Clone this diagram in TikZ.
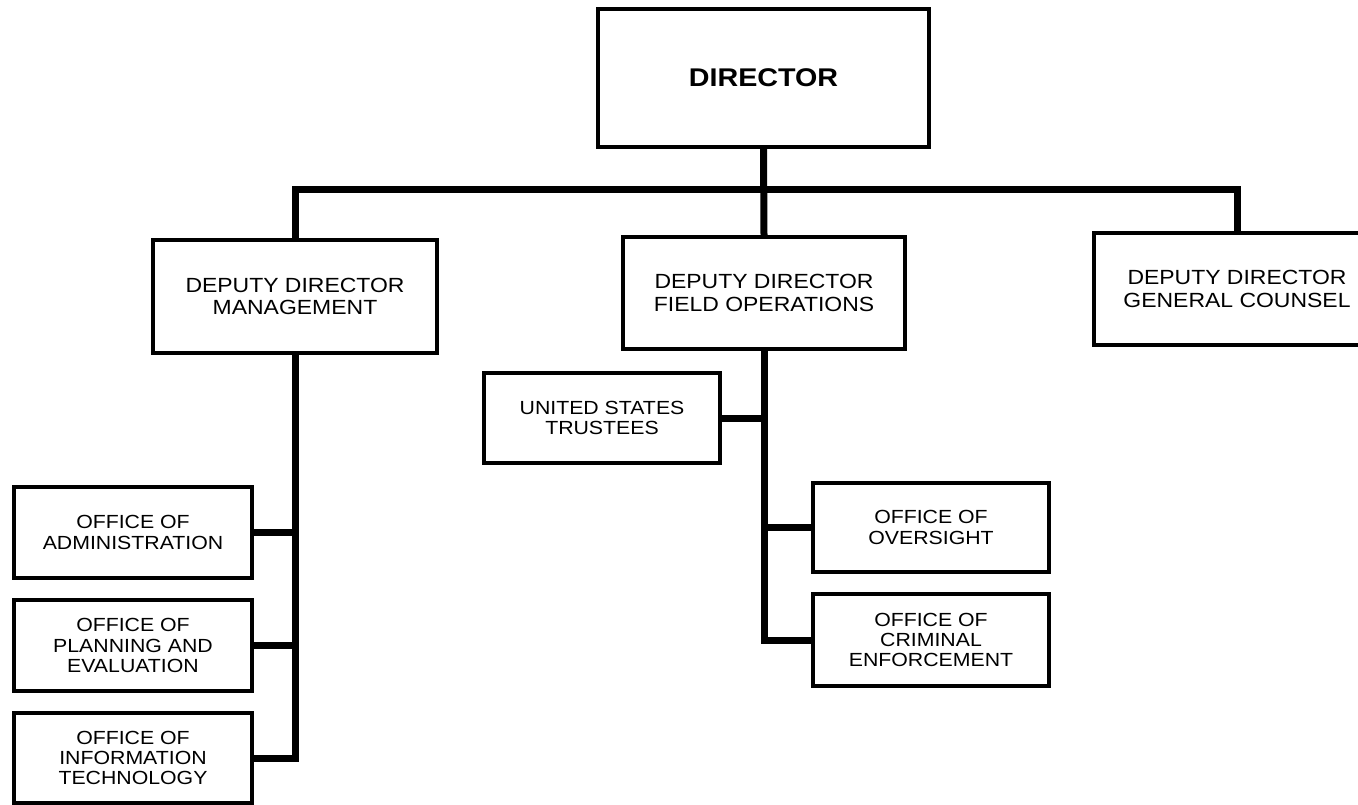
\documentclass[tikz,border=0pt]{standalone}
\usepackage{fontspec}
\setmainfont{Liberation Sans}[FakeStretch=1.12]
\usepackage{tikz}

\begin{document}
\begin{tikzpicture}[x=1pt,y=-1pt,
	unitbox/.style={draw=black, line width=4pt, align=center, inner sep=0pt},
	bigtext/.style={font=\fontsize{20.5}{22.7}\selectfont},
	smalltext/.style={font=\fontsize{19}{20.3}\selectfont},
	link/.style={draw=black, line width=7pt, line join=miter}]
					\tikzstyle{every node}+=[inner sep=0pt]
					\useasboundingbox (0,0) rectangle (1358,805);
					\clip (0,0) rectangle (1358,805);
					% top level
					\node [unitbox, minimum width=331pt, minimum height=138pt, font=\fontsize{25.6}{28}\selectfont\bfseries] (dir) at (763.5,78) {DIRECTOR};
					\node [unitbox, bigtext, minimum width=284pt, minimum height=113pt] (ddm) at (295,296.5) {DEPUTY DIRECTOR\\MANAGEMENT};
					\node [unitbox, bigtext, minimum width=282pt, minimum height=112pt] (ddf) at (764,293) {DEPUTY DIRECTOR\\FIELD OPERATIONS};
					\node [unitbox, bigtext, minimum width=286pt, minimum height=112pt] (ddg) at (1237,289) {DEPUTY DIRECTOR\\GENERAL COUNSEL};
					% management offices
					\node [unitbox, smalltext, minimum width=238pt, minimum height=91pt] (adm) at (133,532.5) {OFFICE OF\\ADMINISTRATION};
					\node [unitbox, smalltext, minimum width=238pt, minimum height=91pt] (pln) at (133,645.5) {OFFICE OF\\PLANNING AND\\EVALUATION};
					\node [unitbox, smalltext, minimum width=238pt, minimum height=90pt] (oit) at (133,758) {OFFICE OF\\INFORMATION\\TECHNOLOGY};
					% field operations offices
					\node [unitbox, smalltext, minimum width=236pt, minimum height=90pt] (ust) at (602,418) {UNITED STATES\\TRUSTEES};
					\node [unitbox, smalltext, minimum width=236pt, minimum height=89pt] (ovs) at (931,527.5) {OFFICE OF\\OVERSIGHT};
					\node [unitbox, smalltext, minimum width=236pt, minimum height=92pt] (cre) at (931,640) {OFFICE OF\\CRIMINAL\\ENFORCEMENT};
					% connectors
					\coordinate (hub) at (764,190);
					\draw [link] (dir.south) -- (ddf.north);
					\draw [link] (ddm.north) |- (hub) -| (ddg.north);
					\draw [link] (ddm.south) |- (oit.east);
					\draw [link] (adm.east) -- (adm.east -| ddm.south);
					\draw [link] (pln.east) -- (pln.east -| ddm.south);
					\draw [link] (ddf.south) |- (cre.west);
					\draw [link] (ust.east) -- (ust.east -| ddf.south);
					\draw [link] (ovs.west) -- (ovs.west -| ddf.south);
\end{tikzpicture}
\end{document}
